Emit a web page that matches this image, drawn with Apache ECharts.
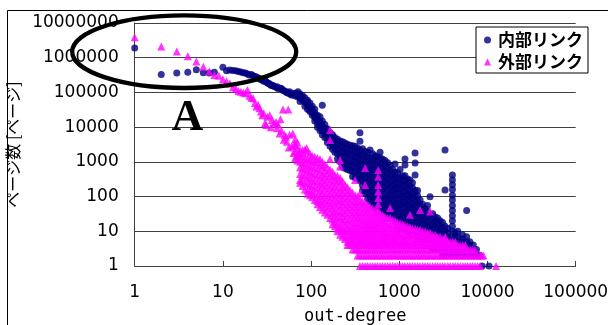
<!DOCTYPE html>
<html><head><meta charset="utf-8">
<script src="https://cdn.jsdelivr.net/npm/echarts@6/dist/echarts.min.js"></script>
<style>html,body{margin:0;padding:0;background:#fff}#c{width:608px;height:325px}</style>
</head><body><div id="c"></div>
<script>
// axis ranges
const xRange = [1, 100000];
const yRange = [1, 10000000];
const seriesNames = ['内部リンク', '外部リンク'];

// 内部リンク (internal links): individual points [out-degree, pages]
const innerHead = [
 [1,1.9e6],[2,3.3e5],[3,3.6e5],[4,3.8e5],[5,4.5e5],[6,3.7e5],[7,3.6e5],[8,3.8e5],[10,5.3e5],[11,4.2e5],[12,4.4e5],[13,4.3e5],[14,4.2e5],[15,4.0e5],[16,3.9e5],[17,3.7e5],[18,3.6e5],[19,3.4e5],[20,3.2e5],[21,3.3e5],[22,3.0e5],[23,2.9e5],[24,2.8e5],[25,2.6e5],[26,2.5e5],[27,2.3e5],[28,2.4e5],[29,2.1e5],[30,2.2e5],[31,2.0e5],[32,1.9e5],[33,1.8e5],[34,1.75e5],[35,1.6e5],[36,1.6e5],[37,1.55e5],[38,1.5e5],[40,1.4e5],[41,1.45e5],[42,1.3e5],[44,1.35e5],[46,1.3e5],[47,1.2e5],[48,1.15e5],[50,1.1e5],[52,1.05e5],[53,1.0e5],[55,9.5e4],[57,1.05e5],[58,9.0e4],[60,8.5e4],[63,9.5e4],[65,8.0e4],[68,9.5e4],[70,7.5e4],[71,1.05e5],[73,8.5e4],[75,7.0e4],[78,7.4e4],[80,6.5e4],[82,6.0e4],[85,6.1e4],[88,5.0e4],[90,5.5e4],[93,4.3e4],[95,4.0e4],[97,3.1e4],[100,3.5e4],[103,2.8e4],[105,2.6e4],[108,2.3e4],[110,3.3e4],[112,2.0e4],[115,1.8e4],[118,1.6e4],[122,1.4e4],[126,1.3e4],[130,1.1e4],[134,4.3e4],[136,9.5e3],[140,8.5e3],[143,8.3e3],[148,7e3],[152,6.5e3],[155,6e3],[160,5e3],
 [8700,1],[10400,1]
];
// 内部リンク: columns [out-degree, [pages...]]
const innerCols = [
 [75,[9e4,7e4,5.5e4]],
 [85,[7e4,5.5e4,4e4]],
 [97,[5e4,3.8e4,2.8e4]],
 [110,[2.5e4,1.9e4,1.5e4]],
 [126,[2e4,1.5e4,1.1e4,8e3]],
 [143,[1.2e4,9e3,6.5e3,5e3]],
 [164,[7e3,5e3,3.8e3,2.8e3]],
 [186,[5e3,3.6e3,2.6e3,1.9e3]],
 [213,[4e3,2.8e3,2e3,1.4e3,1e3]],
 [242,[3.5e3,2.5e3,1.8e3,1.3e3,900,650]],
 [276,[3e3,2.2e3,1.6e3,1.1e3,800,560]],
 [315,[2.8e3,2e3,1.4e3,1e3,700,500,350]],
 [358,[6.9e3,3.9e3,2.2e3,1.6e3,1.1e3,800,560,400,280]],
 [410,[2000,1400,1000,700,500,350,250,170,120]],
 [466,[2200,1300,900,650,450,320,220,150,100,70]],
 [530,[1500,1100,800,550,380,260,180,120,85,60,45]],
 [605,[1900,1300,900,650,450,320,220,150,100,70,50,40]],
 [690,[1100,800,550,380,260,180,120,85,60,42]],
 [786,[800,550,380,260,180,120,85,60,42,30]],
 [895,[870,500,350,240,170,120,85,60,42,30,21]],
 [1020,[600,350,240,170,120,85,60,42,30,21,15]],
 [1160,[1200,810,400,280,200,140,100,70,50,35,25,17,12]],
 [1320,[300,200,140,100,70,50,35,25,17,12]],
 [1510,[1800,930,420,150,100,70,50,35,25,17,12,9]],
 [1720,[80,55,38,27,19,13,10,7]],
 [1960,[45,30,20,14,10,7,5]],
 [2230,[99,30,20,14,10,7,5]],
 [2550,[26,18,13,9,7,5,4]],
 [2900,[20,14,10,7,5,4]],
 [3300,[2200,155,14,10,7,5,4,3,2]],
 [4000,[420,300,220,160,110,80,55,40,28,20,14,10,7,5,4,3,2]],
 [4600,[10,7,5,4,3,2]],
 [5800,[40,7,5,4,3,2]],
 [6900,[4,3,2]],
 [8200,[2]]
];
// 内部リンク: in-between columns of the dense cloud
const innerColsB = [
 [80,[8e4,6e4]],[91,[6e4,4.5e4,3.3e4]],[103,[4e4,3e4,2.2e4]],[118,[2.2e4,1.7e4,1.3e4,1e4]],
 [134,[1.5e4,1.1e4,8e3,6e3]],[153,[9e3,6.5e3,4.8e3,3.6e3]],[175,[6e3,4.3e3,3.2e3,2.3e3]],
 [199,[4.5e3,3.2e3,2.3e3,1.7e3,1.2e3]],[227,[3.8e3,2.7e3,1.9e3,1.35e3,950,700]],
 [258,[3.2e3,2.3e3,1.7e3,1.2e3,850,600]],[295,[2.9e3,2.1e3,1.5e3,1.05e3,750,530,380]],
 [336,[2.5e3,1.8e3,1.3e3,900,650,450,320]],[383,[2.4e3,1.7e3,1.2e3,850,600,420,300,210,150]],
 [437,[1.9e3,1.35e3,950,680,480,340,240,170,120,85]],[498,[1.7e3,1.2e3,850,600,420,300,210,150,105,75,52]],
 [565,[1.4e3,1e3,700,500,350,250,170,120,85,60,42]],[645,[1.2e3,850,600,420,300,210,150,100,70,50,35]],
 [737,[950,670,470,330,230,160,110,78,55,38,27]],[840,[600,420,300,210,150,105,75,52,36,25]],
 [955,[480,340,240,170,120,85,60,42,30,21,15,11]],[1090,[400,290,200,140,100,70,50,35,25,17,12]],
 [1240,[320,230,160,110,80,55,40,28,20,14,10]],[1410,[250,180,125,90,62,44,31,22,15,11,8]],
 [1610,[150,105,75,52,37,26,18,13,9,7]],[1840,[60,42,30,21,15,11,8,6]],[2090,[55,38,27,19,13,10,7,5,4]],
 [2390,[32,22,16,11,8,6,5,4,3]],[2720,[24,17,12,9,6,5,4,3]],[3100,[18,13,9,7,5,4,3,2]],
 [3550,[12,9,7,5,4,3,2]],[4300,[9,7,5,4,3,2]],[5200,[8,6,5,4,3,2]],[6300,[5,4,3,2]],[7500,[3,2]]
];

// 外部リンク (external links): individual points
const outerHead = [
 [1,3.9e6],[2,2.1e6],[3,1.5e6],[4,1.1e6],[5,7.8e5],[6,5.5e5],[7,4.0e5],[8,3.2e5],[9,3.0e5],[10,2.4e5],[11,2.1e5],[12,1.8e5],[13,1.4e5],[14,1.3e5],[15,1.1e5],[16,1.05e5],[17,1.0e5],[18,9.5e4],[19,1.17e5],[20,8.0e4],[21,7.0e4],[22,6.8e4],[23,5.0e4],[24,3.9e4],[25,4.5e4],[26,3.5e4],[27,2.8e4],[28,2.2e4],[29,2.5e4],[30,1.3e4],[31,1.15e4],[32,2.0e4],[34,2.2e4],[35,1.0e4],[36,1.6e4],[38,1.3e4],[40,1.4e4],[41,9.3e3],[42,1.2e4],[44,6.6e3],[45,1.7e4],[46,8.0e3],[48,3.2e4],[49,4.3e3],[50,6.0e3],[52,5.3e3],[53,3.8e3],[55,3.2e4],[56,2.6e3],[57,6.0e3],[60,2.8e3],[62,6.6e3],[63,1.8e3],[65,3.4e3],[68,1.4e3],[70,2.5e3],[72,1.8e3],[81,1.8e3],[89,2.5e3],
 [66,4.5e3],[66,3e3],[66,2e3],[66,1.3e3],[70,3.6e3],[70,1.6e3],[70,1.1e3],
 [1250,7],[9000,2],[12500,1]
];
// 外部リンク: columns
const outerCols = [
 [75,[2200,1500,1000,700,450,300,250]],
 [85,[2300,1300,900,600,400,250,160]],
 [97,[1700,1100,750,500,330,220,150,110]],
 [110,[1400,1000,650,430,280,180,120,80]],
 [126,[1200,800,530,350,230,150,100,70,50]],
 [143,[850,560,380,250,170,110,75,50,35]],
 [164,[8300,4250,1200,600,400,270,180,120,80,55,36,24]],
 [186,[420,300,200,130,90,60,40,28,19,14]],
 [213,[1130,730,350,240,160,110,75,50,34,23,15,11,8]],
 [242,[220,150,100,70,48,33,22,15,10,8,6]],
 [276,[155,105,72,50,34,23,16,11,8,6,5,4]],
 [315,[300,110,75,52,36,25,17,12,9,7,5,4,3]],
 [358,[125,85,60,42,30,21,15,11,8,6,5,4,3,2,1]],
 [410,[660,215,65,45,32,22,16,12,9,7,5,4,3,2,1]],
 [466,[50,35,25,18,13,10,8,6,5,4,3,2,1]],
 [530,[40,28,20,15,11,8,6,5,4,3,2,1]],
 [576,[580,375,215,140,91,60,41]],
 [605,[32,23,17,12,9,7,5,4,3,2,1]],
 [690,[26,19,14,10,8,6,5,4,3,2,1]],
 [786,[47,24,16,12,9,7,5,4,3,2,1]],
 [895,[20,14,10,8,6,5,4,3,2,1]],
 [1020,[17,12,9,7,5,4,3,2,1]],
 [1160,[15,11,8,6,5,4,3,2,1]],
 [1320,[30,13,10,7,5,4,3,2,1]],
 [1510,[12,9,6,5,4,3,2,1]],
 [1720,[41,11,8,6,5,4,3,2,1]],
 [1960,[10,7,5,4,3,2,1]],
 [2230,[37,9,7,5,4,3,2,1]],
 [2550,[8,6,5,4,3,2,1]],
 [2900,[7,5,4,3,2,1]],
 [3300,[7,6,5,4,3,2,1]],
 [3770,[5,4,3,2,1]],
 [4300,[5,4,3,2,1]],
 [4890,[4,3,2,1]],
 [5600,[4,3,2,1]],
 [6350,[3,2,1]],
 [7200,[3,2,1]],
 [8250,[2,1]]
];
// 外部リンク: in-between columns of the dense cloud
const outerColsB = [
 [80,[2200,1400,950,650,420,280,200]],[91,[2000,1200,800,550,360,240,150,120]],
 [103,[1500,1000,700,450,300,200,130,95]],[118,[1300,900,600,400,260,170,110,75,60]],
 [134,[1000,700,450,300,200,130,85,60,42]],[153,[700,480,320,210,140,95,65,45,30]],
 [175,[520,360,240,160,105,70,48,33,22,16]],[199,[400,270,180,120,80,55,37,25,17,12,10]],
 [227,[280,190,130,90,60,40,28,19,13,10,7]],[258,[190,130,88,60,42,28,19,13,10,7,5,4]],
 [295,[130,90,62,43,30,20,14,10,8,6,5,4,3]],[336,[100,70,50,35,24,17,12,9,7,5,4,3,2]],
 [383,[75,52,36,26,19,14,10,8,6,5,4,3,2,1]],[437,[58,40,28,20,15,11,8,6,5,4,3,2,1]],
 [498,[45,32,22,16,12,9,7,5,4,3,2,1]],[565,[36,25,18,13,10,7,5,4,3,2,1]],
 [645,[29,21,15,11,8,6,5,4,3,2,1]],[737,[24,17,13,9,7,5,4,3,2,1]],
 [840,[21,15,11,8,6,5,4,3,2,1]],[955,[18,13,9,7,5,4,3,2,1]],
 [1090,[16,11,8,6,5,4,3,2,1]],[1240,[14,10,7,5,4,3,2,1]],
 [1410,[12,9,7,5,4,3,2,1]],[1610,[11,8,6,5,4,3,2,1]],
 [1840,[10,7,5,4,3,2,1]],[2090,[9,7,5,4,3,2,1]],
 [2390,[8,6,5,4,3,2,1]],[2720,[7,5,4,3,2,1]],
 [3100,[6,5,4,3,2,1]],[3550,[5,4,3,2,1]],
 [4050,[5,4,3,2,1]],[4600,[4,3,2,1]],
 [5250,[4,3,2,1]],[5950,[3,2,1]],
 [6750,[3,2,1]],[7700,[2,1]],[8600,[2]]
];

function flatten(head, colsList) {
  const out = head.slice();
  colsList.forEach(cols => cols.forEach(([x, ys]) => ys.forEach(y => out.push([x, y]))));
  return out;
}
const innerData = flatten(innerHead, [innerCols, innerColsB]);
const outerData = flatten(outerHead, [outerCols, outerColsB]);

const chart = echarts.init(document.getElementById('c'), null, {renderer: 'canvas'});
const fmt = v => String(Math.round(v));
chart.setOption({
  animation: false,
  backgroundColor: '#fff',
  grid: {left: 134.7, right: 32.3, top: 23, bottom: 59, containLabel: false, outerBoundsMode: 'none'},
  xAxis: {
    type: 'log', logBase: 10, min: xRange[0], max: xRange[1],
    name: 'out-degree', nameLocation: 'middle', nameGap: 42,
    nameTextStyle: {fontFamily: 'DejaVu Sans Mono', fontSize: 17, color: '#000'},
    axisLine: {show: true, lineStyle: {color: '#404040', width: 1}},
    axisTick: {show: true, inside: true, length: 5, lineStyle: {color: '#404040'}},
    minorTick: {show: false},
    axisLabel: {formatter: fmt, fontFamily: 'DejaVu Sans', fontSize: 17, color: '#000', margin: 18, hideOverlap: false},
    splitLine: {show: false}
  },
  yAxis: {
    type: 'log', logBase: 10, min: yRange[0], max: yRange[1],
    name: 'ページ数 [ページ]', nameLocation: 'middle', nameGap: 108, nameRotate: 90,
    nameTextStyle: {fontFamily: 'Noto Sans CJK JP', fontSize: 16, color: '#000'},
    axisLine: {show: true, lineStyle: {color: '#404040', width: 1}},
    axisTick: {show: false},
    axisLabel: {formatter: fmt, fontFamily: 'DejaVu Sans', fontSize: 17, color: '#000', margin: 16},
    splitLine: {show: true, lineStyle: {color: '#404040', width: 1}}
  },
  legend: {
    orient: 'vertical', left: 476, top: 27,
    padding: [3, 5, 1, 8], itemGap: 2, itemWidth: 7, itemHeight: 7,
    borderColor: '#000', borderWidth: 1, backgroundColor: '#fff',
    textStyle: {fontFamily: 'Noto Sans CJK JP', fontWeight: 'bold', fontSize: 17, color: '#000', lineHeight: 20, padding: [0, 0, 0, 2]},
    data: seriesNames
  },
  series: [
    {type: 'scatter', name: seriesNames[0], data: innerData, symbol: 'circle', symbolSize: 7,
     itemStyle: {color: '#000080'}},
    {type: 'scatter', name: seriesNames[1], data: outerData, symbol: 'triangle', symbolSize: 8,
     itemStyle: {color: '#FF00FF'}}
  ],
  graphic: [
    {type: 'line', shape: {x1: 7.5, y1: 10.5, x2: 608, y2: 10.5}, style: {stroke: '#000', lineWidth: 1}},
    {type: 'line', shape: {x1: 7.5, y1: 10.5, x2: 7.5, y2: 325}, style: {stroke: '#000', lineWidth: 1}},
    {type: 'ellipse', z: 100, shape: {cx: 184.2, cy: 51.7, rx: 112, ry: 36.3},
     style: {fill: 'none', stroke: '#000', lineWidth: 4.3}},
    {type: 'text', z: 100, x: 187.5, y: 119,
     style: {text: 'A', font: 'bold 44px "Liberation Serif"', fill: '#000', textAlign: 'center', textVerticalAlign: 'middle'}}
  ]
});
</script></body></html>
